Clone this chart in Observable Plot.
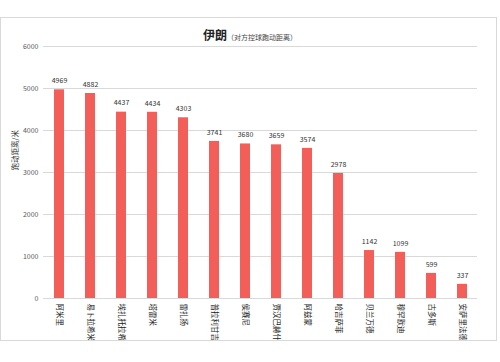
<!DOCTYPE html>
<html>
<head>
<meta charset="utf-8">
<script src="https://cdn.jsdelivr.net/npm/d3@7"></script>
<script src="https://cdn.jsdelivr.net/npm/@observablehq/plot@0.6"></script>
<style>
  html, body { margin: 0; padding: 0; background: #fff; }
  #wrap { position: relative; width: 500px; height: 362px; overflow: hidden; }
  #frame { position: absolute; left: 0px; top: 17px; width: 497px; height: 324px; border: 1px solid #d9d9d9; box-sizing: border-box; pointer-events: none; }
  #title { position: absolute; left: 0; width: 500px; top: 21px; text-align: center; font-family: "Noto Sans CJK SC", sans-serif; color: #222; white-space: nowrap; }
  #title .main { font-size: 12px; font-weight: bold; }
  #title .sub { font-size: 7px; color: #444; }
  #chart { position: absolute; left: 0; top: 0; }
</style>
</head>
<body>
<div id="wrap">
  <div id="chart"></div>
  <div id="frame"></div>
  <div id="title"><span class="main">伊朗</span><span class="sub">（对方控球跑动距离）</span></div>
</div>
<script>
const players = ["阿米里", "易卜拉希米", "埃扎托拉希", "塔雷米", "雷扎扬", "普拉利甘吉", "侯赛尼", "贾汉巴赫什", "阿兹蒙", "哈吉萨菲", "贝兰万德", "穆罕默迪", "古多斯", "安萨里法德"];
const distances = [4969, 4882, 4437, 4434, 4303, 3741, 3680, 3659, 3574, 2978, 1142, 1099, 599, 337];
const yTicks = [0, 1000, 2000, 3000, 4000, 5000, 6000];
const yLabel = "跑动距离/米";

const data = players.map((p, i) => ({player: p, value: distances[i]}));
const font = "'Noto Sans CJK SC', sans-serif";

const chart = Plot.plot({
  width: 500,
  height: 362,
  marginLeft: 43,
  marginRight: 23,
  marginTop: 46,
  marginBottom: 64,
  style: {fontFamily: font, background: "transparent", overflow: "visible"},
  x: {domain: players, paddingInner: 0.68, paddingOuter: 0.34, label: null},
  y: {domain: [0, 6000], ticks: yTicks, label: null},
  marks: [
    Plot.gridY(yTicks, {stroke: "#d9d9d9", strokeOpacity: 1, strokeWidth: 1}),
    Plot.axisY(yTicks, {tickSize: 0, tickPadding: 5, fontSize: 7, fill: "#595959", label: null, tickFormat: d => String(d)}),
    Plot.barY(data, {x: "player", y: "value", fill: "#f35f58"}),
    Plot.ruleY([0], {stroke: "#d9d9d9", strokeWidth: 1}),
    Plot.text(data, {x: "player", y: "value", text: d => String(d.value), dy: -9, fontSize: 7, fill: "#333"}),
    Plot.axisX({tickSize: 0, tickPadding: 5, tickRotate: 90, fontSize: 7.5, fill: "#222", label: null}),
    Plot.text([yLabel], {frameAnchor: "left", dx: -28, dy: -2, rotate: -90, fontSize: 7.5, fill: "#333"})
  ]
});
document.getElementById("chart").appendChild(chart);
</script>
</body>
</html>
